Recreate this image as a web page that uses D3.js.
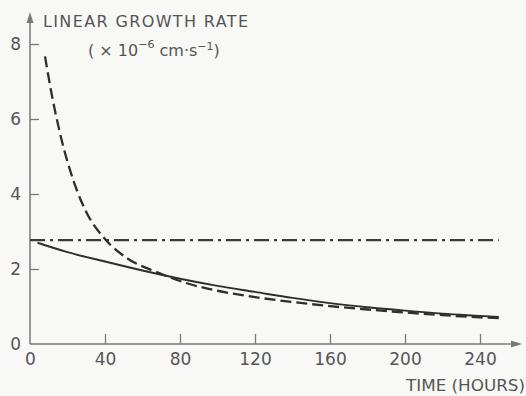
<!DOCTYPE html>
<html>
<head>
<meta charset="utf-8">
<script src="https://cdn.jsdelivr.net/npm/d3@7"></script>
<style>
  body { margin: 0; background: #f8f8f6; }
  svg { display: block; }
  text { font-family: "DejaVu Sans", sans-serif; fill: #555; }
</style>
</head>
<body>
<script>
// growth rate vs time, three curves

var W = 526, H = 396;

var xTicks = [0, 40, 80, 120, 160, 200, 240];
var yTicks = [0, 2, 4, 6, 8];

// solid curve
var solidTime = [4, 20, 40, 60, 80, 100, 120, 140, 160, 180, 200, 220, 240, 250];
var solidRate = [2.70, 2.45, 2.20, 1.96, 1.74, 1.55, 1.39, 1.23, 1.09, 0.98, 0.89, 0.81, 0.75, 0.72];

// dashed curve
var dashTime = [8, 12, 16, 20, 25, 30, 40, 52, 67, 85, 100, 120, 140, 160, 180, 200, 220, 240, 250];
var dashRate = [7.67, 6.55, 5.62, 4.86, 4.10, 3.52, 2.80, 2.28, 1.93, 1.60, 1.42, 1.25, 1.12, 1.01, 0.92, 0.84, 0.77, 0.71, 0.69];

// dash-dot constant
var flatTime = [0, 250];
var flatRate = [2.77, 2.77];

var x = d3.scaleLinear().domain([0, 240]).range([30, 480]);
var y = d3.scaleLinear().domain([0, 8]).range([344, 44]);

var svg = d3.select("body").append("svg")
	.attr("width", W)
	.attr("height", H);

var axisColor = "#7a7a7a";

// axis lines with arrow heads
svg.append("line")
	.attr("x1", x(0)).attr("y1", y(0))
	.attr("x2", 518).attr("y2", y(0))
	.style("stroke", axisColor).style("stroke-width", 1.5);
svg.append("path")
	.attr("d", "M522," + y(0) + "L511," + (y(0) - 3.5) + "L511," + (y(0) + 3.5) + "Z")
	.style("fill", axisColor);

svg.append("line")
	.attr("x1", x(0)).attr("y1", y(0))
	.attr("x2", x(0)).attr("y2", 17)
	.style("stroke", axisColor).style("stroke-width", 1.5);
svg.append("path")
	.attr("d", "M" + x(0) + ",12L" + (x(0) - 3.5) + ",23L" + (x(0) + 3.5) + ",23Z")
	.style("fill", axisColor);

// ticks pointing inward
var xAxis = d3.axisBottom(x)
	.tickValues(xTicks)
	.tickSizeInner(-10)
	.tickSizeOuter(0)
	.tickPadding(9)
	.tickFormat(d3.format("d"));

var gx = svg.append("g")
	.attr("transform", "translate(0," + y(0) + ")")
	.call(xAxis);
gx.select(".domain").remove();
gx.selectAll(".tick line").style("stroke", axisColor).style("stroke-width", 1.3)
	.filter(function(d) { return d === 0; }).remove();
gx.selectAll(".tick text")
	.style("font-size", "17px")
	.style("fill", "#555")
	.style("font-family", "DejaVu Sans, sans-serif");

var yAxis = d3.axisLeft(y)
	.tickValues(yTicks)
	.tickSizeInner(-9)
	.tickSizeOuter(0)
	.tickPadding(9);

var gy = svg.append("g")
	.attr("transform", "translate(" + x(0) + ",0)")
	.call(yAxis);
gy.select(".domain").remove();
gy.selectAll(".tick line").style("stroke", axisColor).style("stroke-width", 1.3)
	.filter(function(d) { return d === 0; }).remove();
gy.selectAll(".tick text")
	.style("font-size", "17px")
	.style("fill", "#555")
	.style("font-family", "DejaVu Sans, sans-serif");

// curves
var line = d3.line()
	.x(function(d) { return x(d[0]); })
	.y(function(d) { return y(d[1]); })
	.curve(d3.curveMonotoneX);

function pairs(t, v) {
	return t.map(function(d, i) { return [d, v[i]]; });
}

svg.append("path")
	.datum(pairs(flatTime, flatRate))
	.attr("d", line)
	.style("fill", "none")
	.style("stroke", "#3a3a3a")
	.style("stroke-width", 2.2)
	.style("stroke-dasharray", "15,5,3,5");

svg.append("path")
	.datum(pairs(solidTime, solidRate))
	.attr("d", line)
	.style("fill", "none")
	.style("stroke", "#2e2e2e")
	.style("stroke-width", 2);

svg.append("path")
	.datum(pairs(dashTime, dashRate))
	.attr("d", line)
	.style("fill", "none")
	.style("stroke", "#2e2e2e")
	.style("stroke-width", 2.3)
	.style("stroke-dasharray", "11,5");

// labels
svg.append("text")
	.attr("x", 43).attr("y", 27)
	.style("font-size", "16px")
	.attr("textLength", 205)
	.attr("lengthAdjust", "spacing")
	.text("LINEAR GROWTH RATE");

var sub = svg.append("text")
	.attr("x", 88).attr("y", 56)
	.style("font-size", "16px");
sub.append("tspan").text("( × 10");
sub.append("tspan").attr("dy", -8).style("font-size", "11px").text("−6");
sub.append("tspan").attr("dy", 8).text(" cm·s");
sub.append("tspan").attr("dy", -6).style("font-size", "11px").text("−1");
sub.append("tspan").attr("dy", 6).text(")");

svg.append("text")
	.attr("x", 406).attr("y", 391)
	.style("font-size", "16px")
	.attr("textLength", 119)
	.attr("lengthAdjust", "spacingAndGlyphs")
	.text("TIME (HOURS)");
</script>
</body>
</html>
